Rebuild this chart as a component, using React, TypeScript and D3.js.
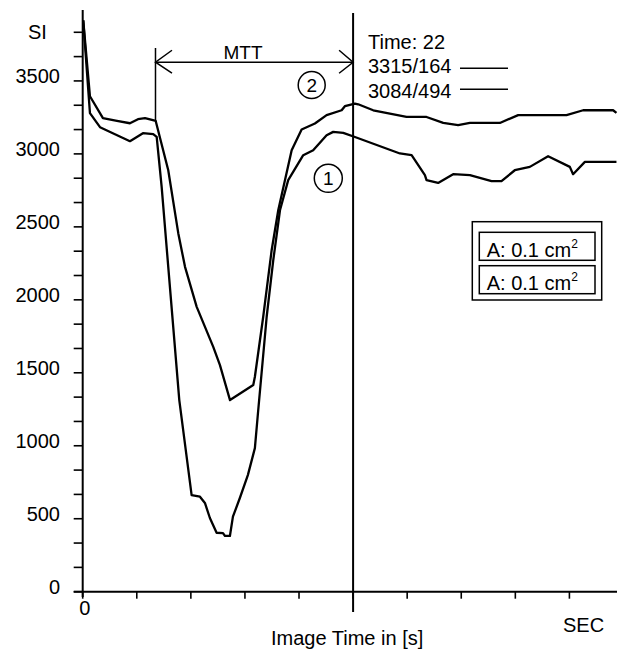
import React from "react";
import * as d3 from "d3";

// curve 2 (upper)
const curve2Time = [0.05, 0.67, 1.87, 3.17, 4.37, 5.11, 5.76, 6.22, 6.75, 7.91, 8.84, 9.46, 10.54, 12.07, 12.69, 13.62, 15.77, 15.92, 16.69, 17.47, 18.08, 19.32, 20.24, 21.47, 22.55, 23.94, 24.24, 25.17, 25.47, 26.86, 29.94, 31.79, 33.33, 34.71, 35.8, 38.57, 40.26, 44.73, 46.27, 49.04, 49.35];
const curve2SI = [3915, 3395, 3245, 3226, 3210, 3238, 3245, 3236, 3226, 2888, 2455, 2226, 1952, 1678, 1553, 1313, 1416, 1473, 1884, 2340, 2614, 3025, 3167, 3208, 3266, 3299, 3327, 3345, 3340, 3299, 3253, 3253, 3212, 3197, 3212, 3212, 3266, 3266, 3299, 3299, 3281];

// curve 1 (lower)
const curve1Time = [0.05, 0.67, 1.6, 4.37, 5.57, 6.52, 6.84, 7.3, 7.91, 8.93, 10.07, 10.84, 11.3, 11.76, 12.38, 12.97, 13.15, 13.61, 13.89, 14.53, 15.27, 15.92, 16.23, 17.01, 17.62, 18.24, 19.0, 20.39, 21.31, 22.55, 23.16, 24.09, 25.17, 29.33, 30.41, 31.64, 31.79, 32.86, 34.25, 35.8, 37.8, 38.72, 39.95, 41.34, 43.03, 45.04, 45.34, 46.43, 49.35];
const curve1SI = [3915, 3279, 3183, 3087, 3142, 3135, 3116, 2774, 2226, 1313, 662, 651, 608, 505, 404, 402, 382, 382, 514, 642, 799, 984, 1245, 1884, 2272, 2614, 2820, 2991, 3025, 3128, 3151, 3144, 3116, 3003, 2991, 2854, 2820, 2801, 2861, 2854, 2813, 2813, 2888, 2911, 2984, 2911, 2861, 2945, 2945];

const siLabels = [0, 500, 1000, 1500, 2000, 2500, 3000, 3500];
const timeTicks = [0, 5, 10, 15, 20, 25, 30, 35, 40, 45];
const cursorTime = 25;
const mttStart = 6.73;
const mttArrowSI = 3628;
const readouts = ["3315/164", "3084/494"];
const areaLabels = ["A: 0.1 cm", "A: 0.1 cm"];

const font = "'Liberation Sans', Arial, sans-serif";

export default function App() {
  var x = d3.scaleLinear().domain([0, 49.4]).range([82.7, 617]);
  var y = d3.scaleLinear().domain([0, 3986]).range([591.7, 10]);
  var minorTicks = d3.range(0, 3900, 500 / 3);

  var line = d3.line<number>()
    .x(d => d[0])
    .y(d => d[1]);
  var path2 = line(curve2Time.map((t, i) => [x(t), y(curve2SI[i])]) as any);
  var path1 = line(curve1Time.map((t, i) => [x(t), y(curve1SI[i])]) as any);

  var cx = x(cursorTime);
  var mx = x(mttStart);
  var ay = y(mttArrowSI);

  return (
    <svg width={622} height={651} style={{ position: "absolute", top: 0, left: 0, background: "#fff" }} fontFamily={font}>
      {/* y axis */}
      <line x1={x(0)} x2={x(0)} y1={10} y2={597} stroke="#000" strokeWidth={2} />
      {minorTicks.map((v, i) => (
        <line key={i} x1={x(0) - 9} x2={x(0)} y1={y(v)} y2={y(v)} stroke="#000" strokeWidth={1.6} />
      ))}
      {siLabels.map(v => (
        <text key={v} x={60} y={y(v) + 2} textAnchor="end" fontSize={20}>{v}</text>
      ))}
      <text x={28} y={39} fontSize={20}>SI</text>

      {/* x axis */}
      <line x1={x(0) - 9} x2={617} y1={y(0)} y2={y(0)} stroke="#000" strokeWidth={2} />
      {timeTicks.map(t => (
        <line key={t} x1={x(t)} x2={x(t)} y1={y(0)} y2={y(0) + 7} stroke="#000" strokeWidth={1.6} />
      ))}
      <text x={x(0) + 2} y={615} textAnchor="middle" fontSize={20}>0</text>
      <text x={271} y={645} fontSize={20}>Image Time in [s]</text>
      <text x={563} y={632} fontSize={20}>SEC</text>

      {/* curves */}
      <path d={path2 || ""} fill="none" stroke="#000" strokeWidth={2.3} strokeLinejoin="round" />
      <path d={path1 || ""} fill="none" stroke="#000" strokeWidth={2.3} strokeLinejoin="round" />

      {/* cursor */}
      <line x1={cx} x2={cx} y1={13} y2={612} stroke="#000" strokeWidth={2} />
      <text x={368} y={49} fontSize={20}>Time: 22</text>
      {readouts.map((r, i) => (
        <g key={i}>
          <text x={368} y={73 + i * 25} fontSize={20}>{r}</text>
          <line x1={460} x2={508} y1={68.3 + i * 21} y2={68.3 + i * 21} stroke="#000" strokeWidth={1.5} />
        </g>
      ))}

      {/* MTT arrow */}
      <line x1={mx} x2={mx} y1={48} y2={y(3226)} stroke="#000" strokeWidth={1.5} />
      <line x1={mx} x2={cx} y1={ay} y2={ay} stroke="#000" strokeWidth={1.5} />
      <polyline points={`${mx + 16.5},${ay - 12} ${mx},${ay} ${mx + 16.5},${ay + 11}`} fill="none" stroke="#000" strokeWidth={1.5} />
      <polyline points={`${cx - 14},${ay - 12} ${cx},${ay} ${cx - 14},${ay + 11}`} fill="none" stroke="#000" strokeWidth={1.5} />
      <text x={243} y={58.5} textAnchor="middle" fontSize={19}>MTT</text>

      {/* circled curve numbers */}
      <circle cx={311.7} cy={85} r={13.5} fill="none" stroke="#000" strokeWidth={1.5} />
      <text x={311.7} y={92} textAnchor="middle" fontSize={19}>2</text>
      <circle cx={328.3} cy={178.3} r={14} fill="none" stroke="#000" strokeWidth={1.5} />
      <text x={328.3} y={185.3} textAnchor="middle" fontSize={19}>1</text>

      {/* area legend */}
      <rect x={472.3} y={221.7} width={129.4} height={78.3} fill="none" stroke="#000" strokeWidth={1.5} />
      {areaLabels.map((a, i) => (
        <g key={i}>
          <rect x={479.3} y={232.3 + i * 33.4} width={115.7} height={28} fill="none" stroke="#000" strokeWidth={1.5} />
          <text x={486.7} y={256.7 + i * 33.4} fontSize={20}>
            {a}
            <tspan fontSize={12} dy={-9}>2</tspan>
          </text>
        </g>
      ))}
    </svg>
  );
}
